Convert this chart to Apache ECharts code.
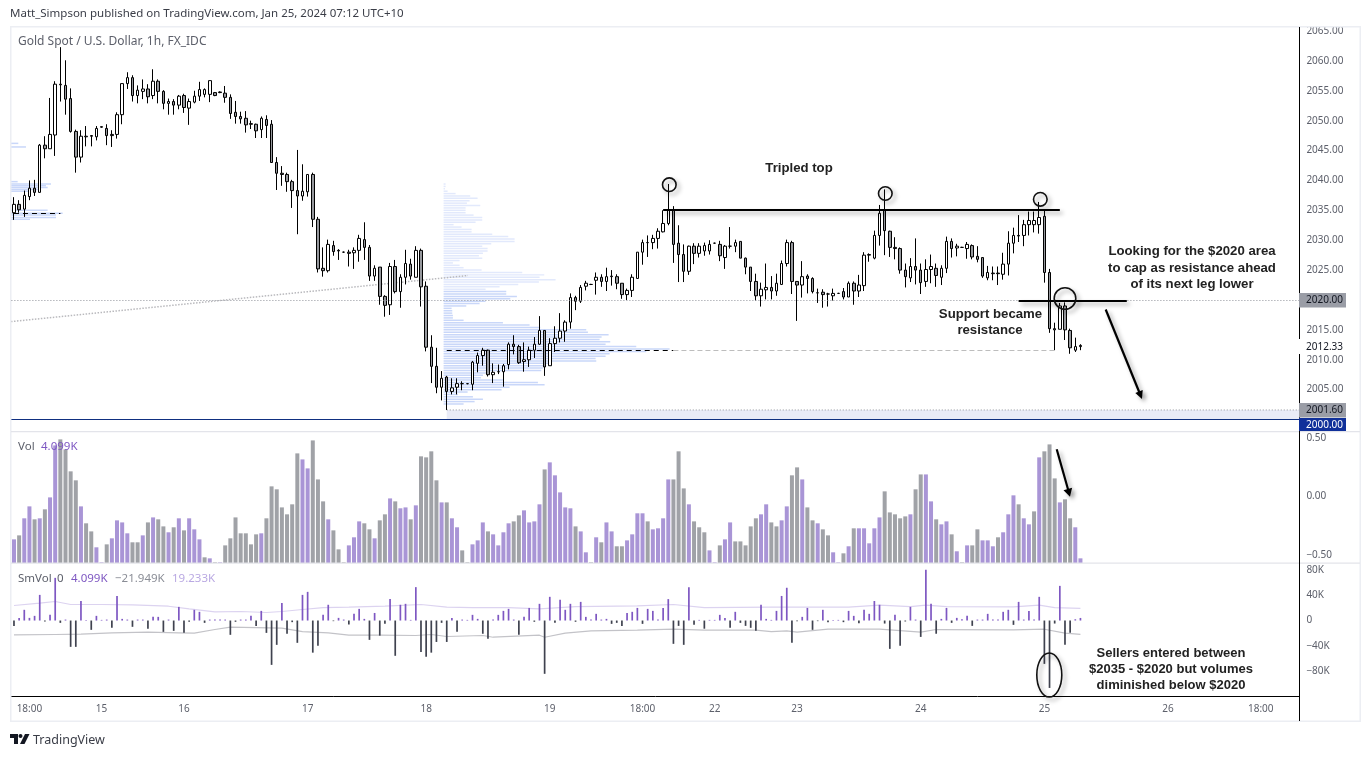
<!DOCTYPE html>
<html><head><meta charset="utf-8">
<style>html,body{margin:0;padding:0;background:#fff}#c{width:1371px;height:757px}</style>
<script src="https://cdn.jsdelivr.net/npm/echarts@6/dist/echarts.min.js"></script>
</head><body><div id="c"></div>
<script>
const open_ = [2034.6,2036,2035.2,2037.3,2038.7,2038,2045.9,2045.3,2047.6,2056.1,
2055.9,2053.7,2048.2,2043.9,2047.4,2047.5,2047.3,2048.9,2048.7,2047.5,
2047.7,2051,2056.2,2057.2,2054.2,2054.9,2055.3,2054.2,2056.6,2054.9,
2052.9,2053.2,2052.6,2054.2,2052.1,2053.1,2054.1,2054.4,2054.4,2054.7,
2054.8,2054.6,2053.9,2051.4,2050.7,2050.4,2049.5,2049.4,2048.5,2050.2,
2049.4,2043,2041.2,2041,2039.8,2038.3,2037.4,2038.1,2041,2033.5,
2025.3,2024.9,2029.1,2028.3,2028,2028,2027.9,2028.3,2030.1,2028.8,
2024,2025.5,2020.6,2019.2,2025.6,2021.4,2023.8,2026,2023.8,2028.3,
2022.3,2012.1,2008.9,2005.4,2007.1,2004.7,2005.4,2006,2006,2005.9,
2009.4,2010.7,2011.6,2007.5,2008,2008,2009.2,2012.6,2012.2,2009.7,
2010,2011.6,2012.6,2014.9,2009,2012.7,2013.6,2014.8,2016.3,2020.4,
2019.8,2022.3,2022.6,2023.3,2023.8,2023.1,2023.9,2023.9,2022.8,2020.9,
2021.6,2023.6,2028,2029.6,2029.6,2030.3,2031.4,2032.8,2035,2029.5,
2027.6,2024.8,2029,2027.8,2028.2,2028.2,2029.5,2029.3,2027.1,2029,
2029,2029.8,2027,2025.5,2023.1,2020.7,2021.7,2022.1,2021.5,2022.6,
2026.1,2029.6,2023.1,2022.5,2024,2023.6,2021.2,2021.3,2021,2020.7,
2021.1,2021.4,2020.5,2022.8,2021.5,2022.4,2027.5,2027,2030.8,2035,
2031.5,2028.8,2028.6,2025,2023.7,2025.6,2025,2023.1,2025.1,2025.3,
2023.8,2025.3,2029.8,2028.7,2028.8,2028.6,2029.1,2027.3,2027.1,2023.7,
2024.4,2024.5,2024.3,2026,2029.5,2030.8,2030.8,2032.6,2032.6,2032.6,
2034,2024.6,2015.2,2015.1,2019,2014.9,2011.6,2012.2];
const high_ = [2037.2,2036.7,2038.3,2040,2040.1,2046.1,2047.4,2053.8,2056.6,2062.3,
2060.1,2055.4,2048.5,2048.4,2049.1,2047.6,2049.1,2049,2049.4,2048.4,
2051.4,2056.2,2058.1,2057.6,2055.9,2056.9,2056.1,2058.6,2056.9,2055.1,
2053.7,2053.6,2054.3,2054.5,2053.7,2055,2056.5,2055.4,2056.7,2054.8,
2054.9,2055.8,2054.4,2053.3,2051.5,2051.6,2050,2049.5,2050.7,2050.9,
2050.1,2043.9,2042.4,2041.3,2040.1,2045.1,2042.7,2041,2041.3,2033.9,
2028.8,2030.1,2029.9,2028.5,2028.1,2028.4,2028.8,2030.9,2033,2029.2,
2025.8,2025.5,2020.8,2026.2,2026.7,2024.3,2028.4,2026.9,2029,2028.6,
2023.1,2014.1,2012,2008.1,2007.3,2006.9,2006.9,2006.4,2006.1,2009.8,
2011.2,2012,2011.7,2009.4,2009.2,2009.3,2012.9,2014.1,2012.5,2012.9,
2012.2,2013.8,2017.3,2014.9,2013.6,2015.6,2017.8,2016.6,2021.1,2020.7,
2022.5,2023.2,2022.7,2024.6,2024.3,2025.4,2025,2024.3,2022.8,2021.9,
2024.3,2028,2030.1,2030.8,2030.9,2032,2035,2039.4,2035.7,2032.5,
2029.3,2029.1,2029.5,2029.5,2029.6,2030,2029.6,2029.9,2029.2,2032.2,
2030.1,2029.8,2027.1,2025.5,2024.4,2022.9,2026.1,2024,2024.4,2026.6,
2030.1,2029.9,2023.1,2026.5,2024.3,2023.8,2021.9,2021.8,2021.2,2021.9,
2021.2,2022,2023.1,2023.1,2024.2,2028,2027.8,2031.6,2035.9,2038.5,
2031.6,2030.5,2028.8,2026.1,2027,2030.3,2026.1,2026.8,2027.6,2026.1,
2025.8,2030.6,2030.3,2029.4,2028.9,2029.7,2029.3,2029,2027.1,2025.7,
2025.6,2025.6,2027.9,2031.5,2032.1,2034.2,2033.4,2034.8,2034.8,2036.4,
2035,2025.2,2016.2,2019.5,2019.6,2015.2,2013.7,2012.6];
const low_ = [2033.4,2034.6,2033.9,2036.7,2037.4,2038,2043.7,2045.3,2044.1,2053.2,
2051,2048,2041.3,2043,2045.7,2045.7,2046.7,2048.8,2045.9,2045.6,
2047,2049.4,2055.3,2053.2,2052.9,2053.6,2052.9,2053.6,2052.9,2051.9,
2051,2051,2051.9,2051.3,2049.3,2052.9,2053.3,2053.9,2053.1,2054.1,
2054.6,2053,2050.3,2049.5,2049.5,2048,2048.6,2047.1,2047.1,2047.1,
2043,2038.4,2039.1,2038.1,2035.4,2031,2036.6,2037.3,2032.2,2024.6,
2023.9,2024.6,2027.4,2026.7,2027.9,2025.6,2025.2,2026.4,2026.7,2023.2,
2023.2,2019.2,2017.2,2017.5,2021.1,2018.7,2022.6,2023.4,2023.8,2018.9,
2011.4,2006.1,2004.4,2003.2,2001.6,2004.2,2004.2,2004.9,2005.9,2004.9,
2007.9,2009,2007.2,2006.1,2007.6,2005.5,2008.4,2010.9,2009.3,2008,
2008.8,2010.3,2012.5,2007.3,2009,2011.3,2012.9,2013,2015.2,2018.3,
2019.5,2021.6,2022.5,2020.9,2022.2,2021.5,2022.4,2021.8,2020.2,2020,
2020.5,2023.6,2025.9,2027.2,2028.5,2028.6,2031.3,2032.5,2026.2,2023,
2023,2024.2,2026,2027.1,2027.4,2027.6,2029.4,2026.5,2025.2,2028.6,
2028,2027,2024.3,2021.5,2019.9,2018.9,2020.1,2020.1,2020.7,2022.5,
2025.6,2021,2016.5,2020.4,2021.1,2021.1,2019.5,2018.7,2018.9,2019.9,
2021,2020.1,2020.5,2019.2,2020.5,2021.5,2026.4,2026.8,2029.1,2027.5,
2027.2,2026.8,2024.4,2022.1,2023,2022.6,2021,2022.2,2022.8,2022.2,
2022.5,2024.5,2027.1,2027.3,2028.7,2026.9,2026.8,2026.3,2023.7,2023.3,
2023.3,2022.5,2023.4,2024.1,2027.8,2029.7,2029,2030.8,2031.3,2031.1,
2022.9,2014.5,2011.6,2015.1,2013.3,2011,2011.3,2011.6];
const close_ = [2036,2035.1,2037.5,2038.7,2038,2045.9,2045.3,2047.7,2056.1,2056,
2053.6,2048.2,2043.9,2047.4,2047.3,2047.4,2048.7,2049,2047.5,2047.7,
2051,2056.2,2057.2,2054.2,2055.1,2055.3,2054,2056.6,2054.9,2052.9,
2053.2,2052.6,2054.1,2052.2,2053.2,2054.1,2055.2,2055.2,2056.7,2054.2,
2054.7,2053.9,2051.2,2050.7,2050.3,2049.3,2049.4,2048.3,2050.4,2049.2,
2043,2041.2,2041,2039.8,2038.3,2037.4,2038.2,2041,2033.5,2025.2,
2024.9,2029.3,2028.1,2028.2,2028,2027.8,2028.3,2030.3,2028.8,2024,
2025.3,2020.6,2019.1,2025.6,2021.4,2023.8,2026.1,2024,2028.3,2022.2,
2012.1,2008.9,2005.4,2006.9,2004.7,2005.3,2006,2006,2006,2009.6,
2010.7,2011.6,2007.5,2007.9,2008,2009,2012.6,2012.2,2009.5,2010,
2011.6,2012.6,2014.9,2008.8,2012.7,2013.6,2014.8,2016.3,2020.4,2019.8,
2022.1,2022.8,2022.6,2023.8,2023.1,2023.9,2024,2022.8,2020.9,2021.6,
2023.8,2028,2029.6,2029.6,2030.3,2031.5,2032.8,2035.1,2029.3,2027.6,
2024.8,2029,2027.8,2029,2029.1,2029.3,2029.5,2027.4,2029,2029,
2029.6,2027,2025.5,2023.1,2020.7,2021.8,2022.1,2021.5,2022.8,2026.1,
2029.6,2023.1,2022.5,2023.9,2023.6,2021.4,2021.2,2020.9,2021,2021.1,
2021.1,2020.5,2022.8,2021.5,2022.5,2027.5,2027.6,2030.8,2034.5,2031.6,
2028.8,2028.6,2025,2023.9,2025.6,2025,2022.9,2025.1,2025.6,2024.1,
2025.3,2029.8,2028.6,2029,2028.8,2029.3,2027.2,2026.8,2024,2024.6,
2024.5,2024.4,2026,2029.5,2030.8,2030.7,2032.6,2033.3,2033.3,2033.8,
2024.6,2015.2,2015,2019,2015,2012,2012.2,2012.4];
const volume = [20.8,24.3,39.3,49.8,38.4,39.3,47.2,57.7,103.4,108.7,
99.9,80.6,72.7,49.8,34.9,27.8,13.8,0.6,16.4,21.7,
37.5,35.7,26.1,18.2,18.2,24.3,35.7,40.1,38.4,32.2,
27,31.4,39.3,28.7,39.3,29.6,20.8,5,4.1,0.6,
0.6,15.5,21.7,40.1,26.1,26.1,16.4,25.2,26.1,39.3,
67.4,64.8,48.9,42.8,51.6,96.4,91.1,83.2,107.8,73.5,
54.2,38.4,28.7,12,0.6,15.5,22.6,36.6,34.9,29.6,
21.7,37.5,42.8,56.8,54.2,48.1,48.9,38.4,50.7,93.8,
92.9,98.2,72.7,53.3,53.3,39.3,31.4,11.1,0.6,16.4,
19.9,35.7,27.8,25.2,15.5,27,34.9,36.6,41.9,46.3,
35.7,36.6,51.6,82.3,88.5,77.1,62.1,48.9,48.1,32.2,
27.8,9.4,0.6,22.6,18.2,35.7,27.8,14.7,14.7,19.9,
25.2,43.7,43.7,36.6,29.6,30.5,39.3,73.5,73.5,98.2,
65.6,51.6,36.6,31.4,27,11.1,0.6,15.5,20.8,35.7,
19,19,15.5,32.2,39.3,42.8,51.6,35.7,32.2,37.5,
49.8,77.1,84.1,73.5,48.9,37.5,34.9,29.6,24.3,9.4,
0.6,8.5,14.7,30.5,30.5,30.5,17.3,30.5,40.1,63,
44.5,42.8,39.3,41,42.8,64.8,77.9,77.9,54.2,38.4,
34,36.6,25.2,10.3,0.6,15.5,15.5,29.6,19.9,19.9,
14.7,22.6,27,42.8,59.5,51.6,39.3,34,45.4,92.9,
98.2,104.3,74.4,53.3,56,39.3,31.4,4.1];
const volSide = ("PGPPGPGPPG"+"GGGPGGPPGP"+"PPPGGPGPGG"+"PGPGPPPGPG"+"PGGGGGGGPG"+"GGGGGGPPGG"+"GPGGGPPPGG"+"PGGPGPPGPG"+
"GGGPG"+"PPGGPPPGPP"+"PPGGPPPPGP"+"PPPPGPPGPG"+"PPGGPPPPGP"+"PPPGGGPGGG"+"PPGPPGGGGG"+"PPGGPP"+
"GGPGGPGGPP"+"GPGPPPPPGG"+"GGGPGGPPGP"+"PGPGPGGPPP"+"GPPPGPPGPG"+"GGPGGPP").split("");
const smVol = [-8.5,4.2,17,4.2,7.4,40.7,-1.5,9,67.7,-3.7,
1.5,-41.8,-41.8,31,1,-14.8,7.4,1,1.5,-11.6,
39,2.6,1.5,-10,1.5,1.5,-13,5.8,5.8,-18,
1.5,-16.4,21.7,-19.6,-2,17,13.8,-3.7,1.5,1.5,
1.5,1.5,-22.7,-2,1.5,1.5,7.4,-8.5,15.3,-19.6,
-70.4,-38.6,28,-21,-2.6,-35.4,40.7,45.5,-51,-40,
9,25,-1,4.2,1.5,-6.3,10.6,18.5,2.6,-30.7,
12,-24,-5.3,34,-56,25,26.5,1,53,-50,
-57.7,-51,-34,-3.7,-34,4.2,-18,1.5,1,9,
2.6,-21,-29,1.5,9,15.3,18.5,1.5,-22.7,5.8,
20,-2,26.5,-84.6,37.6,-3.7,32.8,17,26.5,-2,
29.6,5.8,1.5,10.6,1.5,2.6,-5.3,-3.7,-8.5,12,
13.8,20,-5.3,18.5,15.3,1.5,20,34,-37,-8.5,
-38.6,53,-6.9,1,-13,1,1,9,4.2,-11.6,
13.8,-3.7,-8.5,-11.6,-16.4,25,2.6,1,15.3,39,
52,-35.4,-1,5.8,20,-14.8,-1,17,-2.6,1,
1,-2.6,15.3,7.4,-4.2,17,10.6,31,25,-4.8,
-45,9,-40,-1.5,21.7,1.5,-26,80.4,26.5,-21,
2.6,20,-3.7,4.2,2,7.4,-8.5,1.5,1.5,10.6,
1.5,1.5,13.8,17,-6.9,29.6,1.5,15.3,1.5,37.6,
-68.8,-107,-4.8,55,-38.6,-19.6,2,4.1];
const smUpper = [[0,23.8],[5,27.5],[8,30.2],[11,25.4],[17,25.4],[23,24.9],[30,22.7],[34,18.5],[39,13.8],[44,14.3],[49,12.7],[52,14.3],[56,17.5],[60,20.6],[65,21.2],[72,22.7],[79,25.4],[84,21.2],[89,20.6],[96,20.6],[102,18.5],[109,22.2],[121,23.3],[128,25.4],[134,20.6],[147,21.2],[155,21.2],[162,21.2],[168,24.3],[174,22.2],[177,24.3],[181,22.2],[194,21.7],[199,24.3],[202,20.6],[207,19.2]];
const smLower = [[0,-22.7],[8,-22.2],[13,-21.7],[19,-19.6],[26,-18.5],[32,-19.6],[35,-20.1],[39,-14.3],[42,-10.6],[52,-12.2],[56,-17.5],[61,-19.6],[65,-23.3],[71,-23.3],[78,-23.8],[81,-22.2],[84,-25.4],[91,-23.8],[93,-26.5],[102,-23.3],[103,-26.5],[107,-20.1],[112,-16.4],[121,-15.3],[128,-13.8],[134,-15.3],[144,-15.3],[147,-17.5],[150,-16.4],[152,-18.5],[158,-13.8],[168,-13.8],[176,-18.5],[179,-14.3],[194,-14.8],[200,-13.8],[204,-20.1],[207,-21.9]];
const vpMain = [6,6,4,12,36,80,102,78,70,110,66,66,66,90,116,116,96,30,54,84,84,146,194,213,213,143,116,132,132,118,106,116,48,28,48,60,114,236,302,288,336,286,224,168,126,188,188,220,200,126,108,68,24,26,26,28,28,60,178,258,290,428,433,495,474,468,500,486,578,678,608,498,486,456,458,314,308,298,293,138,118,112,178,283,303,198,174,72,43,88,118,93,60];
const vpMainTop = 2039.4, vpMainStep = 0.40;
const vpLeftPrice = [2046.2,2045.6,2039.8,2039.4,2039.1,2038.8,2038.5,2038.2,2035,2034.5,2034.2,2033.8,2033.5];
const vpLeftVol = [22,45,20,120,105,110,85,55,110,155,135,135,57];
const tickIdx = [3,17,33,57,80,104,122,136,152,176,200,224,242];
const tickText = ['18:00','15','16','17','18','19','18:00','22','23','24','25','26','18:00'];
const priceTicks = [2065,2060,2055,2050,2045,2040,2035,2030,2025,2015,2010,2005];
const volTicks = [0.5,0,-0.5];
const smTicks = [80,40,0,-40,-80];
const CATS = 250;
const categories = Array.from({length:CATS},(_,i)=>{const k=tickIdx.indexOf(i);return k<0?'':tickText[k];});

const F = '"Noto Sans",sans-serif', AF='"Liberation Sans",Arial,sans-serif';
const GREY='#5d606b', PUR='#7e57c2', VP='#a995d6', VG='#a0a2a7';
const shadow={shadowBlur:4,shadowOffsetX:3,shadowOffsetY:3,shadowColor:'rgba(0,0,0,0.35)'};
const chart = echarts.init(document.getElementById('c'),null,{renderer:'canvas'});

function profile(startIdx,offset,thick,pale){
  return function(params,api){
    const p=api.value(1), v=api.value(2);
    const pt=api.coord([startIdx,p]);
    const h=Math.max(1,api.size([0,thick])[1]);
    return {type:'rect',shape:{x:pt[0]+offset,y:pt[1]-h/2,width:v/3,height:h},
      style:{fill:(pale&&p>2021.4)?'#e2e9fc':'#c9d7f9'}};
  };
}
function supportBand(params,api){
  const a=api.coord([api.value(0),api.value(1)]), b=api.coord([api.value(0),api.value(2)]);
  const right=params.coordSys.x+params.coordSys.width;
  return {type:'group',children:[
    {type:'rect',shape:{x:a[0],y:a[1],width:right-a[0],height:b[1]-a[1]},style:{fill:'#e9ebf7'}},
    {type:'line',shape:{x1:a[0],y1:a[1],x2:right,y2:a[1]},style:{stroke:'#8f929a',lineWidth:1,lineDash:[1,2]}}
  ]};
}
const T=(text,x,y,fill,font,align,extra)=>({type:'text',z:120,silent:true,style:Object.assign({text,x,y,fill,font,textAlign:align||'left',textVerticalAlign:'middle'},extra||{})});
const L=(x1,y1,x2,y2,stroke,w,extra,z)=>({type:'line',z:z||110,silent:true,shape:{x1,y1,x2,y2},style:Object.assign({stroke,lineWidth:w},extra||{})});
const R=(x,y,w,h,fill,z)=>({type:'rect',z:z||115,silent:true,shape:{x,y,width:w,height:h},style:{fill}});
const Circ=(cx,cy,r)=>({type:'circle',z:110,silent:true,shape:{cx,cy,r},style:Object.assign({fill:'rgba(0,0,0,0)',stroke:'#111',lineWidth:1.6},shadow)});

const yBase={type:'value',position:'right',scale:false,splitLine:{show:false},axisLine:{show:false},axisTick:{show:false}};
const lab=(customValues,formatter)=>({customValues,formatter,color:GREY,fontFamily:F,fontSize:10,margin:7,padding:[2,0,0,0]});
const xBase=(g,extra)=>Object.assign({type:'category',gridIndex:g,data:categories,axisTick:{show:false},splitLine:{show:false},axisLine:{show:false},axisLabel:{show:false},axisPointer:{show:false}},extra||{});
const AN='bold 13.2px '+AF;

chart.setOption({
  animation:false,
  backgroundColor:'#fff',
  grid:[
    {left:11.4,width:1288,top:27,height:404},
    {left:11.4,width:1288,top:432,height:131},
    {left:11.4,width:1288,top:563,height:133}
  ],
  xAxis:[
    xBase(0),xBase(1),
    xBase(2,{axisLine:{show:true,onZero:false,lineStyle:{color:'#000',width:1}},
      axisLabel:{show:true,interval:0,color:GREY,fontFamily:F,fontSize:10,margin:8}})
  ],
  yAxis:[
    Object.assign({},yBase,{gridIndex:0,min:1998.08,max:2065.67,axisLabel:lab(priceTicks,v=>v.toFixed(2))}),
    Object.assign({},yBase,{gridIndex:1,min:0,max:115.2,show:false}),
    Object.assign({},yBase,{gridIndex:1,min:-0.568,max:0.551,axisLabel:lab(volTicks,v=>(v<0?'\u22120.50':v.toFixed(2)))}),
    Object.assign({},yBase,{gridIndex:2,min:-119.8,max:91.3,axisLabel:lab(smTicks,v=>v===0?'0':(v<0?'\u2212'+(-v)+'K':v+'K'))})
  ],
  series:[
    {type:'custom',name:'Band',xAxisIndex:0,yAxisIndex:0,z:1,silent:true,clip:true,
      renderItem:supportBand,encode:{x:0,y:1},data:[[84,2001.6,2000]]},
    {type:'custom',name:'Profile',xAxisIndex:0,yAxisIndex:0,z:1,silent:true,clip:true,
      renderItem:profile(83,2,0.25,true),encode:{x:0,y:1},
      data:vpMain.map((v,k)=>[83,+(vpMainTop-k*vpMainStep).toFixed(2),v])},
    {type:'custom',name:'ProfileLeft',xAxisIndex:0,yAxisIndex:0,z:1,silent:true,clip:true,
      renderItem:profile(0,-3,0.25,false),encode:{x:0,y:1},
      data:vpLeftPrice.map((p,k)=>[0,p,vpLeftVol[k]])},
    {type:'candlestick',name:'Gold',xAxisIndex:0,yAxisIndex:0,z:3,barWidth:3,silent:true,
      itemStyle:{color:'#ffffff',color0:'#96989d',borderColor:'#000',borderColor0:'#000',borderColorDoji:'#000',borderWidth:1},
      data:open_.map((o,i)=>[o,close_[i],low_[i],high_[i]]),
      markLine:{silent:true,symbol:['none','none'],label:{show:false},animation:false,
        data:[
          {yAxis:2020,lineStyle:{color:'#8f929a',type:[1,2],width:1}},
          {yAxis:2000,lineStyle:{color:'#0f2f80',type:'solid',width:1.2}},
          [{coord:[84,2011.6],lineStyle:{color:'#000',type:[5,4],width:1}},{coord:[128,2011.6]}],
          [{coord:[128,2011.6],lineStyle:{color:'#bdbdbd',type:[5,3],width:1}},{coord:[202,2011.6]}],
          [{coord:[0,2034.5],lineStyle:{color:'#000',type:[5,4],width:1}},{coord:[9,2034.5]}],
          [{coord:[126,2035.1],lineStyle:Object.assign({color:'#000',type:'solid',width:2},shadow)},{coord:[203,2035.1]}],
          [{coord:[195,2019.8],lineStyle:Object.assign({color:'#000',type:'solid',width:2},shadow)},{coord:[216,2019.8]}]
        ]}},
    {type:'bar',name:'Vol',xAxisIndex:1,yAxisIndex:1,barWidth:4,silent:true,
      data:volume.map((v,i)=>({value:v,itemStyle:{color:volSide[i]==='P'?VP:VG}}))},
    {type:'line',name:'volAxisHolder',xAxisIndex:1,yAxisIndex:2,data:[],silent:true},
    {type:'bar',name:'SmVol',xAxisIndex:2,yAxisIndex:3,barWidth:1.7,silent:true,
      data:smVol.map(v=>({value:v,itemStyle:{color:v>=0?PUR:'#3f424f'}}))},
    {type:'line',name:'Upper',xAxisIndex:2,yAxisIndex:3,data:smUpper,symbol:'none',silent:true,z:1,lineStyle:{color:'#dcd3f0',width:1.2}},
    {type:'line',name:'Lower',xAxisIndex:2,yAxisIndex:3,data:smLower,symbol:'none',silent:true,z:1,lineStyle:{color:'#c3c3c8',width:1.2}}
  ],
  graphic:{elements:[
    R(10,26,1351,1.5,'#eceef3',5),R(10,26,1.5,696,'#eceef3',5),R(10,720.5,1351,1.5,'#eceef3',5),R(1359.5,26,1.5,696,'#eceef3',5),
    R(11,431,1349,1.2,'#e3e4ea',5),R(11,562.6,1349,1.2,'#e3e4ea',5),
    L(1299.5,27,1299.5,721,'#000',1,null,6),
    T('Matt_Simpson published on TradingView.com, Jan 25, 2024 07:12 UTC+10',10,14,'#3a3d47','11.5px '+F),
    T('Gold Spot / U.S. Dollar, 1h, FX_IDC',18,41.5,GREY,'12px '+F),
    T('Vol',18,447,GREY,'11.5px '+F),
    T('4.099K',41,447,PUR,'11.5px '+F),
    T('SmVol',18,578.5,GREY,'11.5px '+F),
    T('0',57,578.5,GREY,'11.5px '+F),
    T('4.099K',71,578.5,PUR,'11.5px '+F),
    T('\u221221.949K',115,578.5,'#8a8d96','11.5px '+F),
    T('19.233K',172,578.5,'#b9a8e2','11.5px '+F),
    T('Tripled top',799,168.5,'#222',AN,'center'),
    T('Looking for the $2020 area',1192,251.5,'#222',AN,'center'),
    T('to cap as resistance ahead',1192,268,'#222',AN,'center'),
    T('of its next leg lower',1192,284.5,'#222',AN,'center'),
    T('Support became',990.5,314,'#222',AN,'center'),
    T('resistance',990,330,'#222',AN,'center'),
    T('Sellers entered between',1171,653,'#222','bold 13px '+AF,'center'),
    T('$2035 - $2020 but volumes',1171,669,'#222','bold 13px '+AF,'center'),
    T('diminished below $2020',1171,685,'#222','bold 13px '+AF,'center'),
    Circ(669.3,184.7,6.8),Circ(885.3,193.5,6.8),Circ(1040.3,199.3,6.8),Circ(1065,298.5,10.8),
    {type:'ellipse',z:110,silent:true,shape:{cx:1049.3,cy:675,rx:12.5,ry:22},style:Object.assign({fill:'rgba(0,0,0,0)',stroke:'#111',lineWidth:1.6},shadow)},
    L(1105.7,309.5,1140,394,'#000',2.2,shadow),
    {type:'polygon',z:110,silent:true,shape:{points:[[1142,399],[1142.7,390.1],[1135.3,393.1]]},style:Object.assign({fill:'#000'},shadow)},
    L(1056.7,449.3,1068.5,491,'#000',2.2,shadow),
    {type:'polygon',z:110,silent:true,shape:{points:[[1070,496.7],[1072.1,487.8],[1063.5,490.2]]},style:Object.assign({fill:'#000'},shadow)},
    L(11,321.6,468,275.5,'#b9b9bd',1.5,{lineDash:[1.5,1.5]},2),
    R(1299,293,47,14.5,'#9a9da6'),T('2020.00',1306,300.5,'#131722','10px '+F),
    R(1298,339,48,15,'#ffffff'),T('2012.33',1306,347,'#131722','10px '+F),
    R(1299,403,47,14.5,'#9a9da6'),T('2001.60',1306,410.5,'#131722','10px '+F),
    R(1299,418,47,13,'#10309a'),T('2000.00',1306,425,'#ffffff','10px '+F),
    {type:'polygon',z:120,silent:true,shape:{points:[[10,734],[18,734],[18,744],[14,744],[14,738],[10,738]]},style:{fill:'#131722'}},
    {type:'circle',z:120,silent:true,shape:{cx:20.5,cy:736,r:2},style:{fill:'#131722'}},
    {type:'polygon',z:120,silent:true,shape:{points:[[25,734],[29.5,734],[24.5,744],[20,744]]},style:{fill:'#131722'}},
    T('TradingView',33,740,'#3a3d47','12.5px '+F)
  ]}
});
</script></body></html>
